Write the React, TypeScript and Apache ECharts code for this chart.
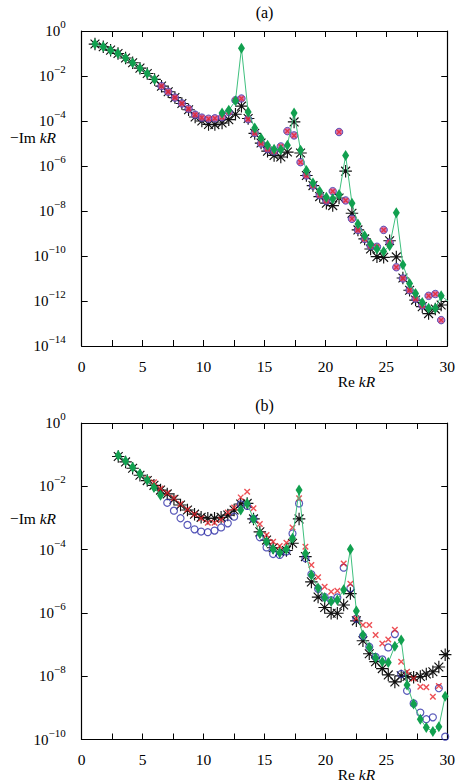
import React, { useEffect, useRef } from 'react';
import * as echarts from 'echarts';

// ---------- Panel (a): Re kR positions and log10(-Im kR) values ----------
const xA = [1.09, 1.77, 2.37, 2.98, 3.6, 4.18, 4.78, 5.38, 5.98, 6.55, 7.1, 7.65, 8.22, 8.77, 9.31, 9.86, 10.41, 10.93, 11.52, 12.07, 12.62, 13.11, 13.66, 14.2, 14.72, 15.25, 15.79, 16.34, 16.88, 17.43, 17.96, 18.44, 18.98, 19.53, 20.08, 20.6, 21.12, 21.66, 22.18, 22.67, 23.22, 23.71, 24.23, 24.78, 25.27, 25.82, 26.36, 26.91, 27.4, 27.95, 28.47, 29.02, 29.5, 30.05];
const blackA = [-0.58, -0.7, -0.85, -1.0, -1.2, -1.41, -1.65, -1.89, -2.15, -2.45, -2.7, -2.96, -3.22, -3.5, -3.82, -4.0, -4.15, -4.16, -4.09, -3.94, -3.7, -3.34, -3.89, -4.55, -4.98, -5.34, -5.53, -5.6, -5.38, -4.04, -5.42, -6.42, -6.87, -7.36, -7.65, -7.76, -7.42, -6.23, -8.1, -8.84, -9.24, -9.69, -10.03, -10.06, -9.32, -10.04, -10.98, -11.52, -11.96, -12.25, -12.56, -12.36, -12.18, null];
const circleA = [null, null, null, null, null, null, null, null, null, -2.45, -2.7, -2.96, -3.22, -3.46, -3.72, -3.85, -3.9, -3.88, -3.83, -3.6, -3.08, -3.0, -3.92, -4.53, -5.0, -5.25, -5.35, -5.13, -4.45, -4.64, -5.83, -6.42, -6.87, -7.3, -7.55, -7.12, -4.49, -7.53, -8.35, -8.84, -9.24, -9.55, -9.59, -8.84, -9.4, -10.5, -11.0, -11.52, -11.9, -12.2, -11.77, -11.69, -12.85, null];
const greenA = [-0.58, -0.7, -0.85, -1.0, -1.2, -1.41, -1.65, -1.89, -2.15, null, null, null, null, null, null, null, null, null, -3.64, -3.52, -3.1, -0.77, -3.6, -4.31, -4.77, -5.08, -5.25, -5.28, -5.08, -3.64, -5.3, -6.2, -6.76, -7.12, -7.39, -7.46, -7.27, -5.53, -7.65, -8.58, -9.1, -9.47, -9.69, -9.8, -9.54, -8.08, -10.39, -11.22, -11.67, -12.07, -12.32, -12.32, -11.77, -12.0];

// ---------- Panel (b) ----------
const xB = [3.0, 3.6, 4.18, 4.78, 5.38, 5.93, 6.47, 7.02, 7.57, 8.11, 8.68, 9.26, 9.8, 10.35, 10.9, 11.44, 11.99, 12.51, 13.05, 13.58, 14.1, 14.62, 15.17, 15.71, 16.25, 16.8, 17.3, 17.84, 18.36, 18.85, 19.4, 19.94, 20.47, 20.98, 21.5, 22.05, 22.54, 23.08, 23.6, 24.12, 24.67, 25.16, 25.7, 26.22, 26.7, 27.24, 27.79, 28.28, 28.82, 29.31, 29.83];
const blackB = [-1.06, -1.23, -1.43, -1.65, -1.82, -1.97, -2.12, -2.24, -2.41, -2.59, -2.75, -2.88, -2.98, -3.01, -3.01, -2.98, -2.91, -2.75, -2.56, -2.54, -3.03, -3.44, -3.7, -3.94, -4.06, -4.03, -3.8, -3.03, -4.22, -5.02, -5.5, -5.83, -6.01, -6.01, -5.75, -5.39, -6.25, -6.88, -7.29, -7.54, -7.76, -7.96, -8.18, -7.99, -8.01, -8.03, -8.01, -7.93, -7.86, -7.71, -7.32];
const blueB = [null, null, null, null, null, null, null, -2.52, -2.77, -3.01, -3.22, -3.36, -3.43, -3.45, -3.4, -3.3, -3.17, -2.96, -2.57, -2.62, -3.03, -3.61, -3.93, -4.14, -4.17, -4.06, -3.49, -2.54, -4.27, -4.78, -5.24, -5.5, -5.6, -5.51, -4.57, -5.22, -6.18, -6.73, -7.07, -7.39, -7.47, -7.09, -6.67, -7.93, -8.46, -8.86, -9.15, -9.36, -9.3, -8.38, -9.91];
const redB = [null, null, null, null, -1.77, -1.87, -2.07, -2.21, -2.37, -2.56, -2.73, -2.88, -3.01, -3.15, -3.15, -3.06, -2.83, -2.67, -2.35, -2.17, -2.69, -3.19, -3.54, -3.75, -3.89, -3.78, -3.3, -2.38, -3.91, -4.49, -4.87, -5.17, -5.33, -5.3, -4.44, -5.08, -6.18, -6.38, -6.38, -6.7, -6.97, -6.84, -6.53, -7.54, -7.86, -8.07, -8.33, -8.35, -8.65, -8.31, null];
const greenB = [-1.03, -1.2, -1.4, -1.6, -1.8, -2.04, -2.28, null, null, null, null, null, null, null, null, null, null, null, -2.75, -2.54, -3.03, -3.49, -3.75, -3.99, -4.1, -3.99, -3.64, -2.12, -4.12, -4.8, -5.21, -5.51, -5.64, -5.59, -5.27, -3.99, -5.94, -6.7, -7.09, -7.42, -7.54, -7.57, -7.05, -6.86, -8.28, -8.88, -9.36, -9.62, -9.75, -9.6, -8.63];

// ---------- Axis tick labels ----------
const xLabelValues = [0, 5, 10, 15, 20, 25, 30];
const yExpA = [-14, -12, -10, -8, -6, -4, -2, 0];
const yExpB = [-10, -8, -6, -4, -2, 0];

const FONT = 'Liberation Serif, DejaVu Serif, serif';
const ASTER = 'path://M6,0L6,12M0,6L12,6M1.76,1.76L10.24,10.24M1.76,10.24L10.24,1.76';
const CROSS = 'path://M0,0L10,10M0,10L10,0';

function pts(xs: number[], vs: (number | null)[]) {
  const out: number[][] = [];
  xs.forEach((x, i) => {
    const v = vs[i];
    if (v !== null && v !== undefined) out.push([x, v]);
  });
  return out;
}
function linePts(xs: number[], vs: (number | null)[]) {
  return xs.map((x, i) => (vs[i] === null ? [x, '-'] : [x, vs[i]]));
}

function yLabel(v: number) {
  const e = v === 0 ? '0' : '\u2212' + Math.abs(v);
  return `{b|10}{s|${e}}`;
}

const axisLine = { show: true, onZero: false, lineStyle: { color: '#000', width: 1.2 } };
const axisTick = { show: true, inside: true, length: 6, lineStyle: { color: '#000', width: 1 } };

function xAxes(g: number) {
  return [
    {
      type: 'value', gridIndex: g, min: 0, max: 30, interval: 2.5, position: 'bottom',
      axisLine, axisTick, splitLine: { show: false },
      axisLabel: {
        formatter: (v: number) => (xLabelValues.includes(v) ? String(v) : ''),
        color: '#000', fontFamily: FONT, fontSize: 15.5, margin: 12,
      },
    },
    {
      type: 'value', gridIndex: g, min: 0, max: 30, interval: 2.5, position: 'top',
      axisLine, axisTick, splitLine: { show: false }, axisLabel: { show: false },
    },
  ];
}
function yAxes(g: number, exps: number[]) {
  const rich = {
    b: { fontFamily: FONT, fontSize: 15, color: '#000' },
    s: { fontFamily: FONT, fontSize: 11, color: '#000', padding: [0, 0, 14, 0] },
  };
  return [
    {
      type: 'value', gridIndex: g, min: exps[0], max: exps[exps.length - 1], interval: 2, position: 'left',
      axisLine, axisTick, splitLine: { show: false },
      axisLabel: { formatter: (v: number) => (exps.includes(v) ? yLabel(v) : ''), margin: 16, rich },
    },
    {
      type: 'value', gridIndex: g, min: exps[0], max: exps[exps.length - 1], interval: 2, position: 'right',
      axisLine, axisTick, splitLine: { show: false }, axisLabel: { show: false },
    },
  ];
}

function blackSeries(xi: number, xs: number[], vs: (number | null)[]) {
  return {
    type: 'scatter', xAxisIndex: xi, yAxisIndex: xi, data: pts(xs, vs),
    symbol: ASTER, symbolSize: 12.5,
    itemStyle: { color: '#000', borderColor: '#111', borderWidth: 1.15, opacity: 1 },
    z: 2,
  };
}
function greenSeries(xi: number, xs: number[], vs: (number | null)[]) {
  return {
    type: 'line', xAxisIndex: xi, yAxisIndex: xi, data: linePts(xs, vs),
    symbol: 'diamond', symbolSize: [7, 11], showAllSymbol: true, connectNulls: false,
    itemStyle: { color: '#11a04f' },
    lineStyle: { color: '#3fc07e', width: 1 },
    z: 5,
  };
}
function crossSeries(xi: number, xs: number[], vs: (number | null)[], size: number) {
  return {
    type: 'scatter', xAxisIndex: xi, yAxisIndex: xi, data: pts(xs, vs),
    symbol: CROSS, symbolSize: size,
    itemStyle: { color: '#e8232b', borderColor: '#e8232b', borderWidth: 1.4 },
    z: 4,
  };
}

function nameText(x: number, y: number, pre: string) {
  return {
    type: 'text', x, y,
    style: {
      text: `{n|${pre}}{i|kR}`,
      textAlign: 'center', textVerticalAlign: 'middle',
      rich: {
        n: { fontFamily: FONT, fontSize: 15.5, fill: '#000', color: '#000' },
        i: { fontFamily: FONT, fontSize: 15.5, fontStyle: 'italic', fill: '#000', color: '#000' },
      },
    },
  };
}
function plainText(x: number, y: number, text: string) {
  return {
    type: 'text', x, y,
    style: { text, fontFamily: FONT, fontSize: 16, fill: '#000', textAlign: 'center', textVerticalAlign: 'middle' },
  };
}

export default function App() {
  const ref = useRef<HTMLDivElement>(null);
  useEffect(() => {
    if (!ref.current) return;
    const chart = echarts.init(ref.current, undefined, { renderer: 'svg' });
    const option: any = {
      animation: false,
      backgroundColor: '#fff',
      grid: [
        { left: 81.7, right: 10.7, top: 31, height: 315, containLabel: false },
        { left: 81.7, right: 10.7, top: 423, height: 316.5, containLabel: false },
      ],
      xAxis: [...xAxes(0), ...xAxes(1)],
      yAxis: [...yAxes(0, yExpA), ...yAxes(1, yExpB)],
      series: [
        // panel (a)
        blackSeries(0, xA, blackA),
        {
          type: 'scatter', xAxisIndex: 0, yAxisIndex: 0, data: pts(xA, circleA),
          symbol: 'circle', symbolSize: 7.5,
          itemStyle: { color: '#c8579f', borderColor: '#3b3bb0', borderWidth: 1 },
          z: 3,
        },
        crossSeries(0, xA, circleA, 4.5),
        greenSeries(0, xA, greenA),
        // panel (b)
        blackSeries(2, xB, blackB),
        {
          type: 'scatter', xAxisIndex: 2, yAxisIndex: 2, data: pts(xB, blueB),
          symbol: 'circle', symbolSize: 7,
          itemStyle: { color: 'rgba(255,255,255,0)', borderColor: '#2e2ea8', borderWidth: 1.2 },
          z: 3,
        },
        crossSeries(2, xB, redB, 5.5),
        greenSeries(2, xB, greenB),
      ],
      graphic: [
        plainText(264.5, 12, '(a)'),
        plainText(264.5, 405, '(b)'),
        nameText(33, 137.5, '\u2212Im '),
        nameText(33, 518, '\u2212Im '),
        nameText(356.5, 381, 'Re '),
        nameText(356.5, 774, 'Re '),
      ],
    };
    chart.setOption(option);
    return () => chart.dispose();
  }, []);
  return (
    <div
      ref={ref}
      style={{ position: 'absolute', left: 0, top: 0, width: 458, height: 782, background: '#fff' }}
    />
  );
}
